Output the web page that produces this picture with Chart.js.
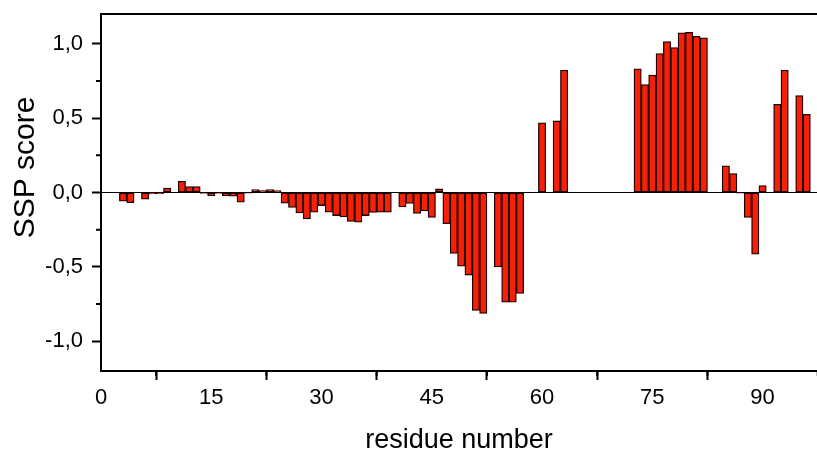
<!DOCTYPE html>
<html>
<head>
<meta charset="utf-8">
<script src="https://cdn.jsdelivr.net/npm/chart.js@4/dist/chart.umd.min.js"></script>
<style>
  html, body { margin: 0; padding: 0; background: #fff; }
  #box { width: 817px; height: 451px; position: relative; }
</style>
</head>
<body>
<div id="box"><canvas id="grafico1"></canvas></div>
<script>
// residue numbers and SSP scores (null = no bar)
var residues = [];
for (var r = 1; r <= 96; r++) residues.push(r);

var ssp = [
  null, null, -0.058, -0.068, null, -0.045, -0.010, -0.010, 0.030, null,
  0.075, 0.040, 0.040, -0.006, -0.022, -0.006, -0.022, -0.025, -0.065, -0.005,
  0.020, 0.013, 0.020, 0.013, -0.072, -0.100, -0.137, -0.177, -0.132, -0.088,
  -0.132, -0.155, -0.164, -0.195, -0.200, -0.155, -0.134, -0.132, -0.132, null,
  -0.097, -0.074, -0.141, -0.124, -0.168, 0.024, -0.210, -0.410, -0.495, -0.555,
  -0.793, -0.813, null, -0.500, -0.737, -0.737, -0.679, null, null, 0.468,
  null, 0.481, 0.822, null, null, null, null, null, null, null,
  null, null, 0.831, 0.726, 0.790, 0.934, 1.015, 0.974, 1.073, 1.077,
  1.050, 1.040, null, null, 0.180, 0.128, -0.005, -0.168, -0.415, 0.047,
  null, 0.593, 0.822, null, 0.652, 0.526
];

var xTicks = [0, 15, 30, 45, 60, 75, 90];
var xMinor = [7.5, 22.5, 37.5, 52.5, 67.5, 82.5, 97.5];
var yTicks = [-1.0, -0.5, 0.0, 0.5, 1.0];
var yTickLabels = ["-1,0", "-0,5", "0,0", "0,5", "1,0"];
var yMinor = [-0.75, -0.25, 0.25, 0.75];

var fonte = "'Liberation Sans', Arial, sans-serif";

var moldura = {
    id: 'moldura',
    afterDraw: function (chart) {
        var ctx = chart.ctx, a = chart.chartArea;
        var sx = chart.scales.x, sy = chart.scales.y;
        ctx.save();
        ctx.strokeStyle = '#000';
        ctx.lineWidth = 2;
        ctx.beginPath();
        ctx.moveTo(a.left - 1, a.top);
        ctx.lineTo(a.right, a.top);
        ctx.stroke();
        // minor ticks
        ctx.beginPath();
        xMinor.forEach(function (v) {
            var px = sx.getPixelForValue(v);
            ctx.moveTo(px, a.bottom);
            ctx.lineTo(px, a.bottom + 5);
        });
        yMinor.forEach(function (v) {
            var py = sy.getPixelForValue(v);
            ctx.moveTo(a.left, py);
            ctx.lineTo(a.left - 5, py);
        });
        ctx.stroke();
        ctx.restore();
    }
};

var graf = document.getElementById("grafico1");
var barChart = new Chart(graf, {
    type: 'bar',
    data: {
        datasets: [{
            label: "SSP",
            data: residues.map(function (r, i) { return { x: r, y: ssp[i] }; }),
            backgroundColor: "rgb(245, 32, 6)",
            borderColor: "#1a0000",
            borderWidth: 1.3,
            borderSkipped: false,
            barPercentage: 1.0,
            categoryPercentage: 1.0
        }]
    },
    options: {
        responsive: true,
        maintainAspectRatio: false,
        animation: false,
        devicePixelRatio: 1,
        layout: { padding: { top: 14, right: 0, left: 0, bottom: 0 } },
        plugins: {
            legend: { display: false },
            tooltip: { enabled: false }
        },
        scales: {
            x: {
                type: 'linear',
                min: 0,
                max: 97.4,
                offset: false,
                afterFit: function (s) {
                    s.height = 80;
                    s.paddingLeft = 0;
                    s.paddingRight = 0;
                },
                afterBuildTicks: function (s) {
                    s.ticks = xTicks.map(function (v) { return { value: v }; });
                },
                ticks: {
                    color: '#000',
                    padding: 5,
                    maxRotation: 0,
                    font: { family: fonte, size: 22 },
                    callback: function (v) { return String(v); }
                },
                grid: {
                    drawOnChartArea: false,
                    tickLength: 9,
                    tickWidth: 2,
                    tickColor: '#000'
                },
                border: { display: true, color: '#000', width: 2 },
                title: {
                    display: true,
                    text: 'residue number',
                    color: '#000',
                    padding: { top: 0, bottom: 0 },
                    font: { family: fonte, size: 27, lineHeight: 0.8 }
                }
            },
            y: {
                min: -1.2,
                max: 1.2,
                afterFit: function (s) {
                    s.width = 101;
                    s.paddingTop = 0;
                    s.paddingBottom = 0;
                },
                afterBuildTicks: function (s) {
                    s.ticks = yTicks.map(function (v) { return { value: v }; });
                },
                ticks: {
                    color: '#000',
                    padding: 9,
                    font: { family: fonte, size: 22 },
                    callback: function (v) {
                        var i = yTicks.indexOf(v);
                        return i >= 0 ? yTickLabels[i] : '';
                    }
                },
                grid: {
                    color: function (c) { return c.tick && c.tick.value === 0 ? '#000' : 'rgba(0,0,0,0)'; },
                    lineWidth: 1,
                    tickLength: 9,
                    tickWidth: 2,
                    tickColor: '#000'
                },
                border: { display: true, color: '#000', width: 2 },
                title: {
                    display: true,
                    text: '      SSP score',
                    color: '#000',
                    padding: { top: 8, bottom: 0 },
                    font: { family: fonte, size: 30, lineHeight: 1.2 }
                }
            }
        }
    },
    plugins: [moldura]
});
</script>
</body>
</html>
